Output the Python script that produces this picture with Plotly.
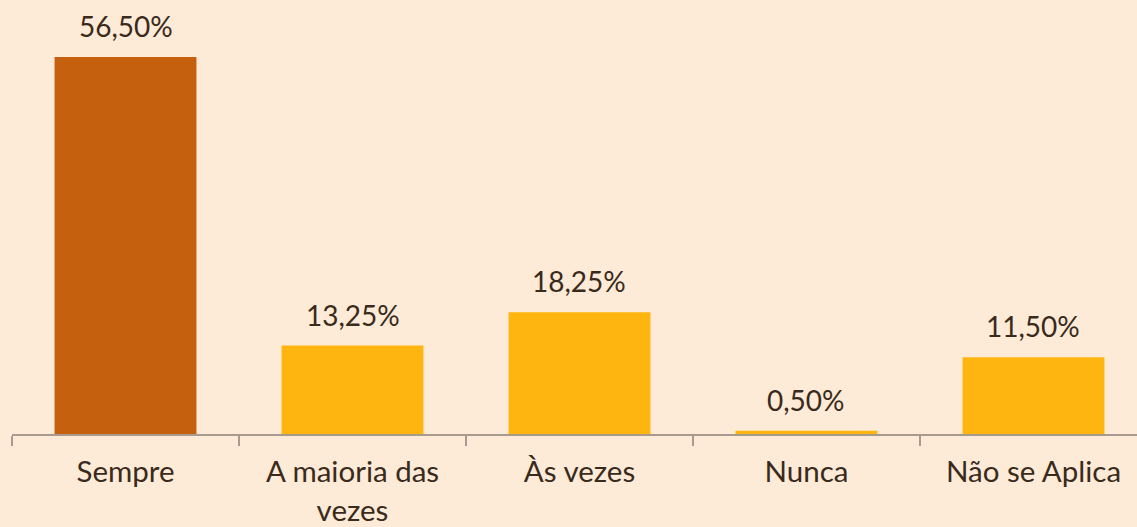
import plotly.graph_objects as go

categories = ["Sempre", "A maioria das<br>vezes", "Às vezes", "Nunca", "Não se Aplica"]
values = [56.50, 13.25, 18.25, 0.50, 11.50]
labels = ["56,50%", "13,25%", "18,25%", "0,50%", "11,50%"]
colors = ["#C5600F", "#FFB50F", "#FFB50F", "#FFB50F", "#FFB50F"]

BG = "#FDEAD7"
TXT = "#3A2A1C"
FONT = "Lato"

fig = go.Figure()
fig.add_trace(go.Bar(
    x=categories, y=values,
    marker=dict(color=colors, line=dict(width=0)),
    width=0.625,
    hoverinfo="skip",
))

for c, v, t in zip(categories, values, labels):
    fig.add_annotation(x=c, y=v, text=t, showarrow=False,
                       yanchor="middle", yshift=31,
                       font=dict(family=FONT, size=28, color=TXT))

fig.update_layout(
    width=1137, height=527,
    margin=dict(l=12, r=0, t=0, b=93),
    paper_bgcolor=BG, plot_bgcolor=BG,
    showlegend=False,
    font=dict(family=FONT, size=29.5, color=TXT),
    xaxis=dict(
        type="category",
        range=[-0.5, 4.456],
        automargin=False,
        showline=True, linecolor="#A89A8C", linewidth=2,
        ticks="outside", tickson="boundaries", ticklen=10, tickwidth=2,
        tickcolor="#A89A8C",
        ticklabelstandoff=11,
        showgrid=False, zeroline=False,
        tickfont=dict(family=FONT, size=29.5, color=TXT),
    ),
    yaxis=dict(range=[0, 65.04], visible=False, showgrid=False, zeroline=False),
)

fig.write_html("out.html")
